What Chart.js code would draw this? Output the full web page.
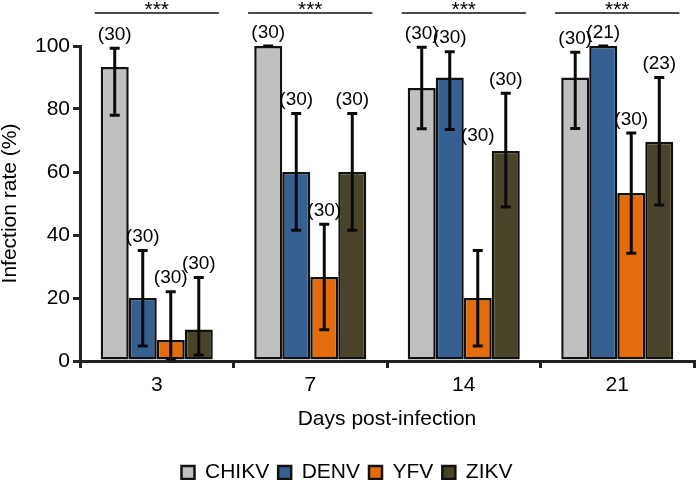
<!DOCTYPE html>
<html>
<head>
<meta charset="utf-8">
<script src="https://cdn.jsdelivr.net/npm/chart.js@4"></script>
<style>
  html, body { margin: 0; padding: 0; background: #fff; }
</style>
</head>
<body>
<canvas id="infectionChart" width="697" height="480"></canvas>
<script>
// Days post-infection (x categories)
const days = ['3', '7', '14', '21'];
const viruses = ['CHIKV', 'DENV', 'YFV', 'ZIKV'];

// Infection rate (%)
const chikv = [93.3, 100, 86.7, 90];
const denv = [20, 60, 90, 100];
const yfv = [6.7, 26.7, 20, 53.3];
const zikv = [10, 60, 66.7, 69.6];

// Confidence interval, low and high ends (%)
const chikvLow = [78, 100, 73.7, 73.8];
const chikvHigh = [99.3, 100, 99.6, 98];
const denvLow = [4.8, 41.5, 73.5, 100];
const denvHigh = [35.1, 78.6, 98.2, 100];
const yfvLow = [0.6, 9.9, 4.8, 34.2];
const yfvHigh = [22, 43.4, 35.1, 72.4];
const zikvLow = [1.9, 41.5, 48.9, 49.5];
const zikvHigh = [26.5, 78.6, 85, 90];

// Mosquitoes tested per group
const chikvN = [30, 30, 30, 30];
const denvN = [30, 30, 30, 21];
const yfvN = [30, 30, 30, 30];
const zikvN = [30, 30, 30, 23];

// Significance per day
const signif = ['***', '***', '***', '***'];

const FONT = "'Liberation Sans', Arial, sans-serif";
const colors = ['#c0c0c0', '#376092', '#e46c0a', '#494429'];
const values = [chikv, denv, yfv, zikv];
const lows = [chikvLow, denvLow, yfvLow, zikvLow];
const highs = [chikvHigh, denvHigh, yfvHigh, zikvHigh];
const counts = [chikvN, denvN, yfvN, zikvN];

// the (n) label of YFV on day 14 sits higher in the original figure
const labelLift = { '2-2': 32 };

const errorBars = {
  id: 'errorBars',
  afterDatasetsDraw(chart) {
    const ctx = chart.ctx;
    const yScale = chart.scales.y;
    ctx.save();
    chart.data.datasets.forEach((ds, di) => {
      const meta = chart.getDatasetMeta(di);
      meta.data.forEach((bar, i) => {
        const top = yScale.getPixelForValue(highs[di][i]);
        const bot = yScale.getPixelForValue(lows[di][i]);
        ctx.strokeStyle = '#0a0a0a';
        ctx.lineWidth = 3;
        ctx.beginPath();
        ctx.moveTo(bar.x, top);
        ctx.lineTo(bar.x, bot);
        ctx.moveTo(bar.x - 5, top);
        ctx.lineTo(bar.x + 5, top);
        ctx.moveTo(bar.x - 5, bot);
        ctx.lineTo(bar.x + 5, bot);
        ctx.stroke();

        const lift = labelLift[di + '-' + i] || 0;
        const labelY = yScale.getPixelForValue(highs[di][i] + lift) - 4;
        ctx.fillStyle = '#000';
        ctx.font = '19px ' + FONT;
        ctx.textAlign = 'center';
        ctx.textBaseline = 'bottom';
        ctx.fillText('(' + counts[di][i] + ')', bar.x, labelY);
      });
    });
    ctx.restore();
  }
};

const sigLines = {
  id: 'sigLines',
  afterDraw(chart) {
    const ctx = chart.ctx;
    const xScale = chart.scales.x;
    const half = xScale.width / days.length * 0.405;
    ctx.save();
    signif.forEach((s, i) => {
      const cx = xScale.getPixelForValue(i);
      ctx.strokeStyle = '#111';
      ctx.lineWidth = 1.5;
      ctx.beginPath();
      ctx.moveTo(cx - half, 13);
      ctx.lineTo(cx + half, 13);
      ctx.stroke();
      ctx.fillStyle = '#000';
      ctx.font = '21px ' + FONT;
      ctx.textAlign = 'center';
      ctx.textBaseline = 'alphabetic';
      ctx.fillText(s, cx, 16);
    });
    ctx.restore();
  }
};

const ctx = document.getElementById('infectionChart').getContext('2d');
const infectionChart = new Chart(ctx, {
  type: 'bar',
  data: {
    labels: days,
    datasets: viruses.map((name, k) => ({
      label: name,
      data: values[k],
      backgroundColor: colors[k],
      borderColor: '#111',
      borderWidth: 2.5,
      borderSkipped: false,
      categoryPercentage: 0.73,
      barPercentage: 1
    }))
  },
  options: {
    responsive: false,
    animation: false,
    layout: { padding: { top: 46, right: 3, bottom: -13, left: 0 } },
    plugins: {
      tooltip: { enabled: false },
      legend: {
        position: 'bottom',
        labels: {
          font: { size: 21, family: FONT },
          color: '#000',
          boxWidth: 13,
          boxHeight: 13,
          padding: 9
        }
      }
    },
    scales: {
      x: {
        afterFit: s => { s.height = 92; },
        grid: {
          drawOnChartArea: false,
          offset: true,
          color: '#222',
          lineWidth: 3,
          tickLength: 7
        },
        border: { color: '#222', width: 3 },
        ticks: { color: '#000', font: { size: 21, family: FONT }, padding: 5 },
        title: {
          display: true,
          text: 'Days post-infection',
          color: '#000',
          font: { size: 21, family: FONT },
          padding: { top: 0, bottom: 21 }
        }
      },
      y: {
        min: 0,
        max: 100,
        afterFit: s => { s.width = 80; },
        grid: {
          drawOnChartArea: false,
          color: '#222',
          lineWidth: 3,
          tickLength: 7
        },
        border: { color: '#222', width: 3 },
        ticks: { stepSize: 20, color: '#000', font: { size: 21, family: FONT }, padding: 3 },
        title: {
          display: true,
          text: 'Infection rate (%)',
          color: '#000',
          font: { size: 21, family: FONT, lineHeight: 1 },
          padding: 0
        }
      }
    }
  },
  plugins: [errorBars, sigLines]
});
</script>
</body>
</html>
